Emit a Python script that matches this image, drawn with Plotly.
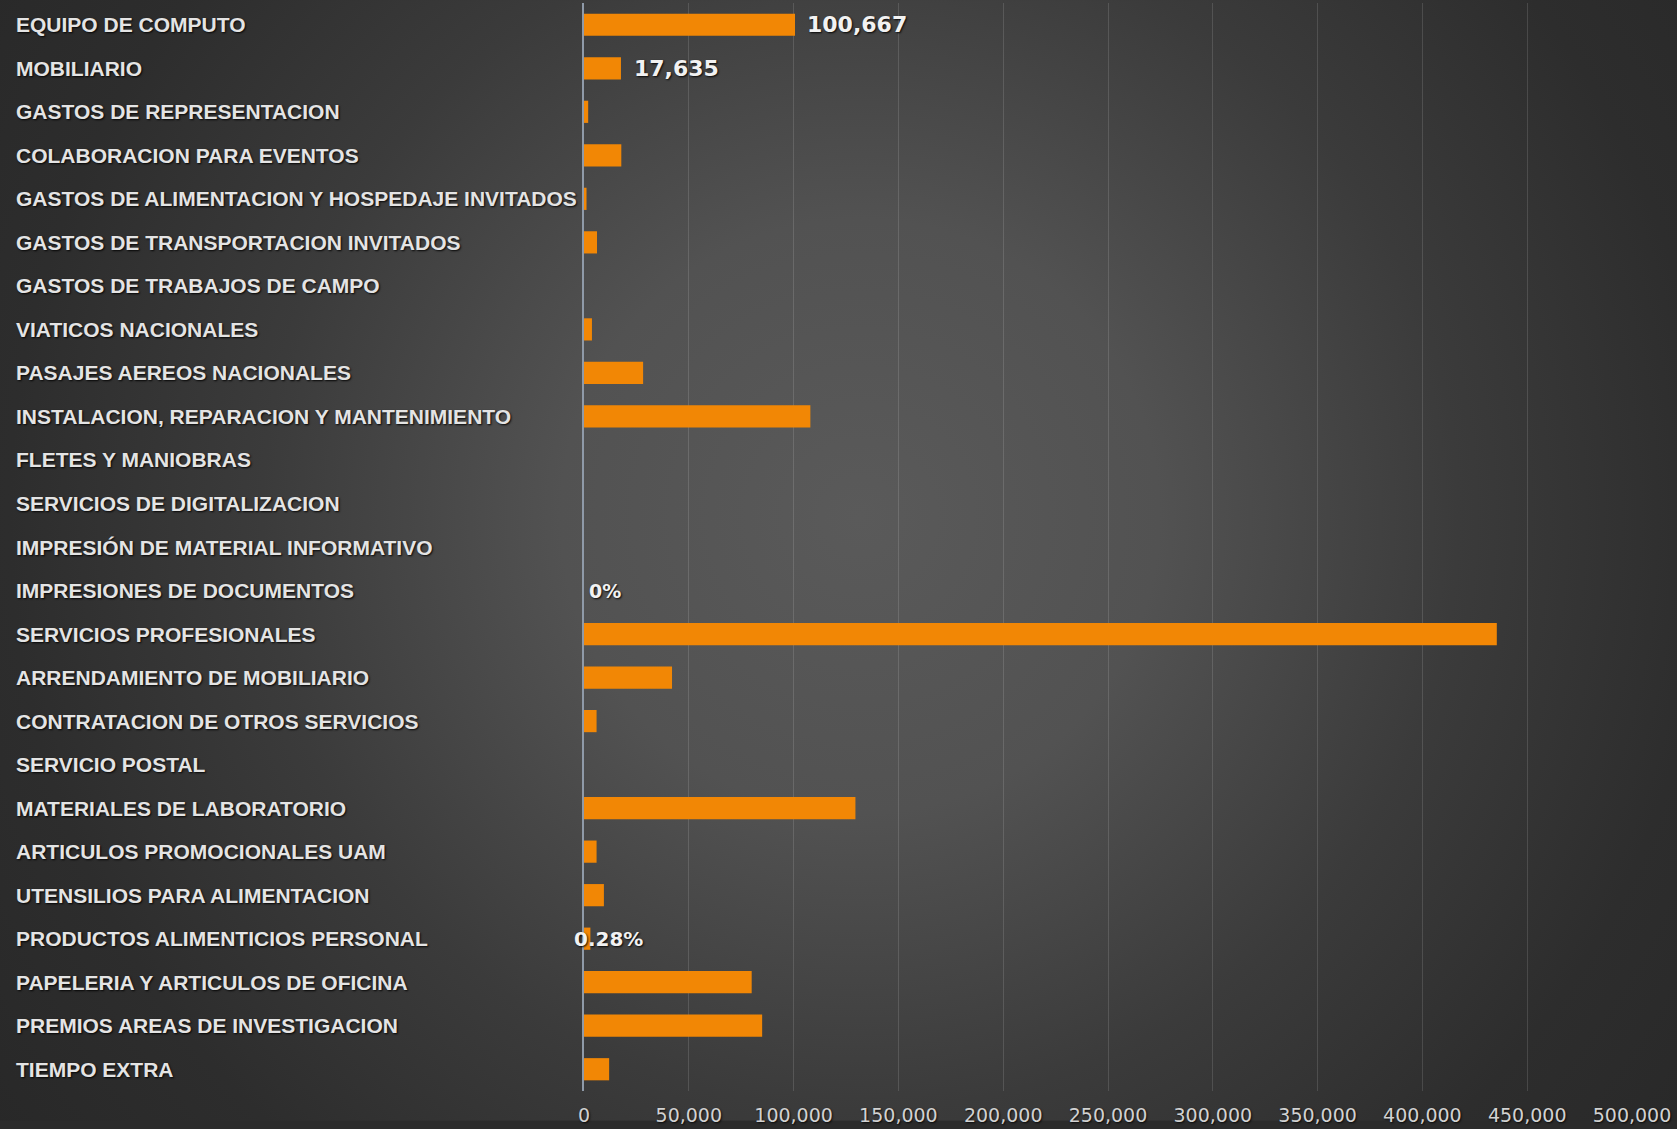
import base64
import plotly.graph_objects as go

# ---- data ----
categories = [
    "EQUIPO DE COMPUTO",
    "MOBILIARIO",
    "GASTOS DE REPRESENTACION",
    "COLABORACION PARA EVENTOS",
    "GASTOS DE ALIMENTACION Y HOSPEDAJE INVITADOS",
    "GASTOS DE TRANSPORTACION INVITADOS",
    "GASTOS DE TRABAJOS DE CAMPO",
    "VIATICOS NACIONALES",
    "PASAJES AEREOS NACIONALES",
    "INSTALACION, REPARACION Y MANTENIMIENTO",
    "FLETES Y MANIOBRAS",
    "SERVICIOS DE DIGITALIZACION",
    "IMPRESIÓN DE MATERIAL INFORMATIVO",
    "IMPRESIONES DE DOCUMENTOS",
    "SERVICIOS PROFESIONALES",
    "ARRENDAMIENTO DE MOBILIARIO",
    "CONTRATACION DE OTROS SERVICIOS",
    "SERVICIO POSTAL",
    "MATERIALES DE LABORATORIO",
    "ARTICULOS PROMOCIONALES UAM",
    "UTENSILIOS PARA ALIMENTACION",
    "PRODUCTOS ALIMENTICIOS PERSONAL",
    "PAPELERIA Y ARTICULOS DE OFICINA",
    "PREMIOS AREAS DE INVESTIGACION",
    "TIEMPO EXTRA",
]
values = [
    100667, 17635, 2000, 17800, 1200, 6200, 0, 3800, 28200, 108000,
    0, 0, 0, 0, 435500, 42000, 6000, 0, 129500, 6000,
    9500, 3050, 80000, 85000, 12000,
]
value_labels = [
    "100,667", "17,635", "", "", "", "", "", "", "", "",
    "", "", "", "0%", "", "", "", "", "", "",
    "", "0.28%", "", "", "",
]
label_shift = [10, 11, 0, 0, 0, 0, 0, 0, 0, 0,
               0, 0, 0, 3, 0, 0, 0, 0, 0, 0,
               0, -18, 0, 0, 0]
label_size = [22, 22, 0, 0, 0, 0, 0, 0, 0, 0,
              0, 0, 0, 19, 0, 0, 0, 0, 0, 0,
              0, 20, 0, 0, 0]
x_ticks = [0, 50000, 100000, 150000, 200000, 250000, 300000, 350000, 400000, 450000, 500000]

# ---- layout geometry ----
W, H = 1677, 1129
ML, MR, MT, MB = 584, 45, 3, 30
PW, PH = W - ML - MR, H - MT - MB

svg = f"""<svg xmlns='http://www.w3.org/2000/svg' width='{W}' height='{H}' viewBox='0 0 {W} {H}'>
<defs><radialGradient id='g' gradientUnits='userSpaceOnUse' cx='860' cy='520' r='1150'>
<stop offset='0' stop-color='#5a5a5a'/>
<stop offset='0.26' stop-color='#525252'/>
<stop offset='0.52' stop-color='#3b3b3b'/>
<stop offset='0.74' stop-color='#2d2d2d'/>
<stop offset='1' stop-color='#262626'/>
</radialGradient></defs>
<rect x='0' y='0' width='{W}' height='{H}' fill='url(#g)'/>
</svg>"""
uri = "data:image/svg+xml;base64," + base64.b64encode(svg.encode()).decode()

fig = go.Figure()
fig.add_trace(go.Bar(
    x=values,
    y=categories,
    orientation="h",
    marker=dict(color="#f28705", line=dict(color="#c96a00", width=0)),
    hoverinfo="x+y",
))

fig.add_layout_image(
    source=uri, xref="paper", yref="paper",
    x=-ML / PW, y=1 + MT / PH, sizex=W / PW, sizey=H / PH,
    xanchor="left", yanchor="top", sizing="stretch", layer="below",
)

annotations = []
for cat in categories:
    annotations.append(dict(
        x=(14 - ML) / PW, xref="paper", y=cat, yref="y",
        xanchor="left", yanchor="middle", showarrow=False,
        text=cat,
        font=dict(family="Liberation Sans, Arial, sans-serif", size=21,
                  color="#e4e4e4", weight="bold",
                  shadow="1px 1px 2px rgba(0,0,0,0.9)"),
    ))
for cat, v, lab, sh, sz in zip(categories, values, value_labels, label_shift, label_size):
    if lab:
        annotations.append(dict(
            x=v, xref="x", y=cat, yref="y",
            xanchor="left", yanchor="middle", showarrow=False,
            xshift=sh, text=lab,
            font=dict(family="DejaVu Sans, sans-serif", size=sz,
                      color="#f2f2f2", weight="bold",
                      shadow="1px 1px 2px rgba(0,0,0,0.9)"),
        ))

fig.update_layout(
    width=W, height=H,
    margin=dict(l=ML, r=MR, t=MT, b=MB, pad=0),
    paper_bgcolor="#2b2b2b",
    plot_bgcolor="rgba(0,0,0,0)",
    bargap=0.49,
    showlegend=False,
    annotations=annotations,
    xaxis=dict(
        range=[0, 500000], tickvals=x_ticks, tickformat=",",
        showgrid=True, gridcolor="rgba(255,255,255,0.13)", gridwidth=1,
        zeroline=False, showline=False,
        ticks="outside", ticklen=7, tickcolor="rgba(0,0,0,0)",
        tickfont=dict(family="DejaVu Sans, sans-serif", size=19, color="#d2d2d2",
                      shadow="1px 1px 2px rgba(0,0,0,0.8)"),
        fixedrange=True,
    ),
    yaxis=dict(
        categoryorder="array", categoryarray=categories,
        autorange="reversed", showticklabels=False, ticks="",
        showgrid=False, zeroline=False,
        showline=True, linecolor="#8f9aa8", linewidth=2,
        fixedrange=True,
    ),
)

fig.write_html(
    "out.html",
    config={"displayModeBar": False},
    post_script="document.body.style.margin='0';document.body.style.background='#2b2b2b';",
)
